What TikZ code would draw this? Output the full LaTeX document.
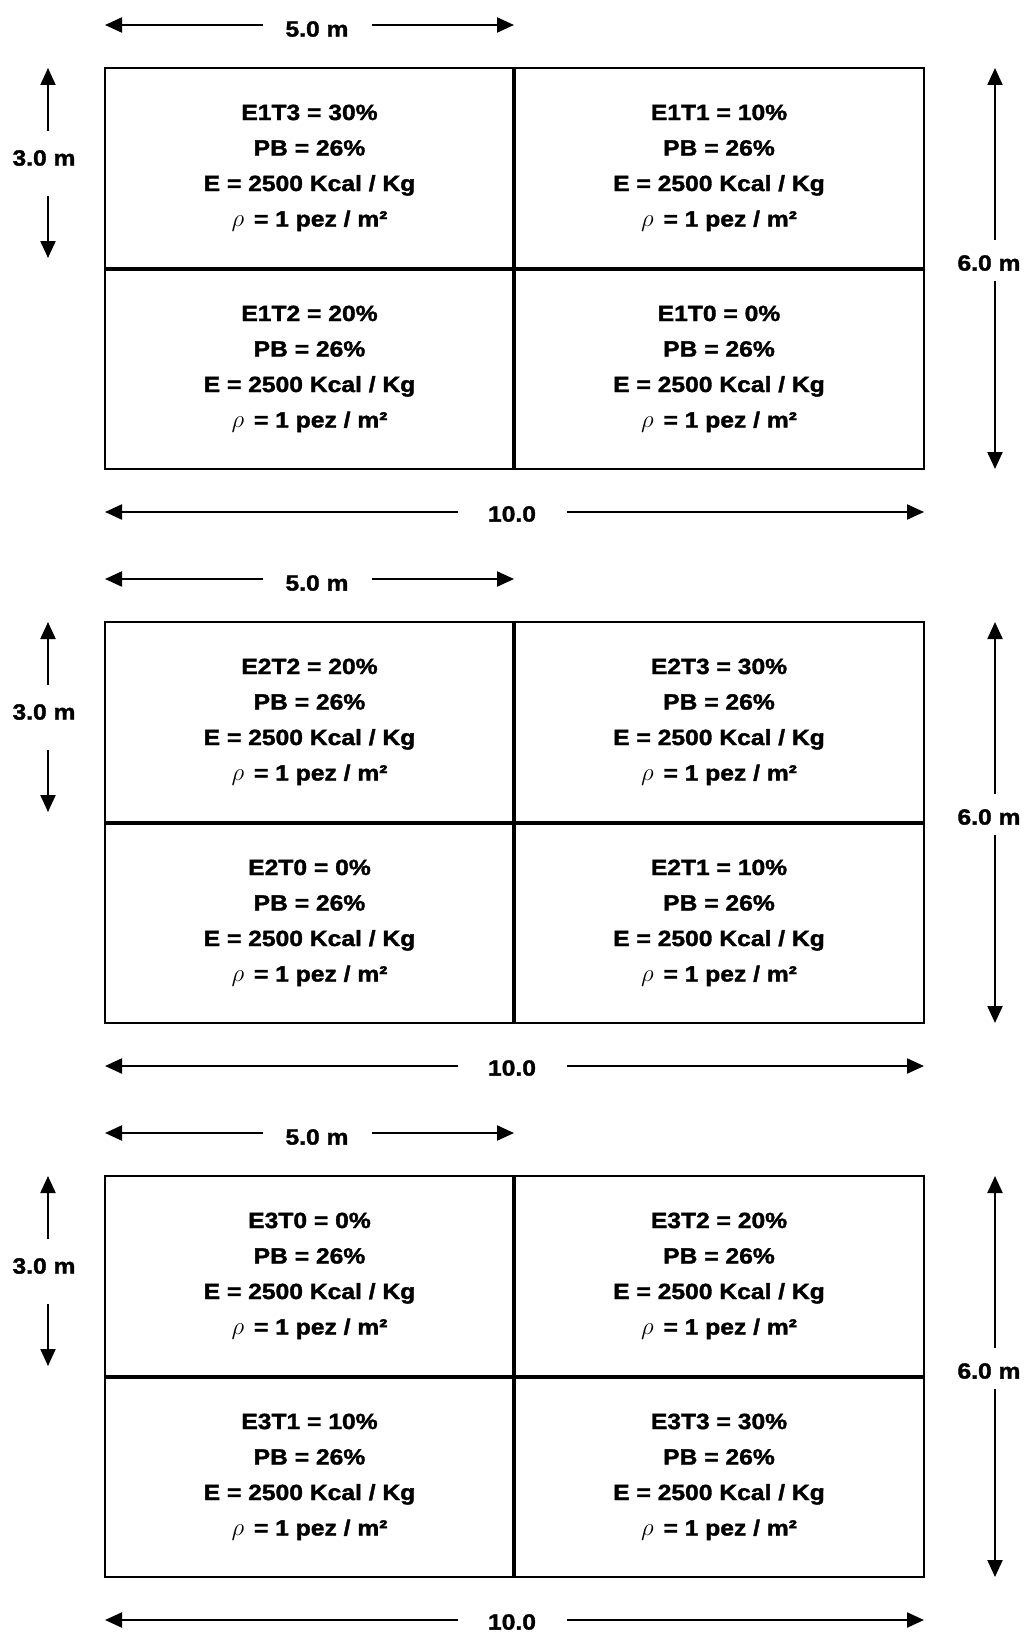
\documentclass[tikz,border=0pt]{standalone}
\usepackage{fontspec}
\setmainfont{Liberation Sans}[FakeStretch=1.12,BoldFeatures={FakeBold=1.6}]
\usetikzlibrary{arrows.meta}
\begin{document}
\begin{tikzpicture}[x=1pt,y=-1pt,
  dim/.style={line width=2.2pt,-{Triangle[length=17pt,width=15pt]}},
  lab/.style={font=\fontsize{22}{24}\selectfont\bfseries,inner sep=0pt},
  cell/.style={font=\fontsize{22}{35.5}\selectfont\bfseries,align=center,inner sep=0pt},
  frame/.style={line width=2.6pt},
  divider/.style={line width=3.4pt}]
\useasboundingbox (0,0) rectangle (1028,1635);
\newcommand\myrho{{\fontsize{28}{28}\selectfont$\rho$}}
\foreach \b/\ctl/\ctr/\cbl/\cbr in {%
  0/{E1T3 = 30\%}/{E1T1 = 10\%}/{E1T2 = 20\%}/{E1T0 = 0\%},%
  1/{E2T2 = 20\%}/{E2T3 = 30\%}/{E2T0 = 0\%}/{E2T1 = 10\%},%
  2/{E3T0 = 0\%}/{E3T2 = 20\%}/{E3T1 = 10\%}/{E3T3 = 30\%}}{
  \pgfmathsetmacro\T{68+554*\b}
  \pgfmathsetmacro\M{\T+201}
  \pgfmathsetmacro\B{\T+401}
  % frame
  \coordinate (tl\b) at (105,\T);
  \coordinate (br\b) at (924,\B);
  \coordinate (mt\b) at (514,\T);
  \coordinate (mb\b) at (514,\B);
  \coordinate (ml\b) at (105,\M);
  \coordinate (mr\b) at (924,\M);
  \draw[frame] (tl\b) rectangle (br\b);
  \draw[divider] (mt\b) -- (mb\b);
  \draw[divider] (ml\b) -- (mr\b);
  % cells
  \node[cell] (c\b a) at (309.5,\T+100) {\ctl\\PB = 26\%\\E = 2500 Kcal / Kg\\\myrho\hspace{0.45em}= 1 pez / m²};
  \node[cell] (c\b b) at (719,\T+100) {\ctr\\PB = 26\%\\E = 2500 Kcal / Kg\\\myrho\hspace{0.45em}= 1 pez / m²};
  \node[cell] (c\b c) at (309.5,\M+100) {\cbl\\PB = 26\%\\E = 2500 Kcal / Kg\\\myrho\hspace{0.45em}= 1 pez / m²};
  \node[cell] (c\b d) at (719,\M+100) {\cbr\\PB = 26\%\\E = 2500 Kcal / Kg\\\myrho\hspace{0.45em}= 1 pez / m²};
  % 5.0 m
  \node[lab] (w\b) at (317,\T-39) {5.0 m};
  \coordinate (wa\b) at (263,\T-43);
  \coordinate (wl\b) at (105,\T-43);
  \coordinate (wb\b) at (372,\T-43);
  \coordinate (wr\b) at (514,\T-43);
  \draw[dim] (wa\b) -- (wl\b);
  \draw[dim] (wb\b) -- (wr\b);
  % 10.0
  \node[lab] (l\b) at (512,\B+45) {10.0};
  \coordinate (la\b) at (458,\B+43);
  \coordinate (ll\b) at (105,\B+43);
  \coordinate (lb\b) at (567,\B+43);
  \coordinate (lr\b) at (924,\B+43);
  \draw[dim] (la\b) -- (ll\b);
  \draw[dim] (lb\b) -- (lr\b);
  % 3.0 m
  \node[lab] (h\b) at (44,\T+90) {3.0 m};
  \coordinate (ha\b) at (48,\T+63);
  \coordinate (ht\b) at (48,\T);
  \coordinate (hb\b) at (48,\T+128);
  \coordinate (hd\b) at (48,\T+190);
  \draw[dim] (ha\b) -- (ht\b);
  \draw[dim] (hb\b) -- (hd\b);
  % 6.0 m
  \node[lab] (v\b) at (989,\T+195) {6.0 m};
  \coordinate (va\b) at (995,\T+172);
  \coordinate (vt\b) at (995,\T);
  \coordinate (vb\b) at (995,\T+213);
  \coordinate (vd\b) at (995,\B);
  \draw[dim] (va\b) -- (vt\b);
  \draw[dim] (vb\b) -- (vd\b);
}
\end{tikzpicture}
\end{document}
